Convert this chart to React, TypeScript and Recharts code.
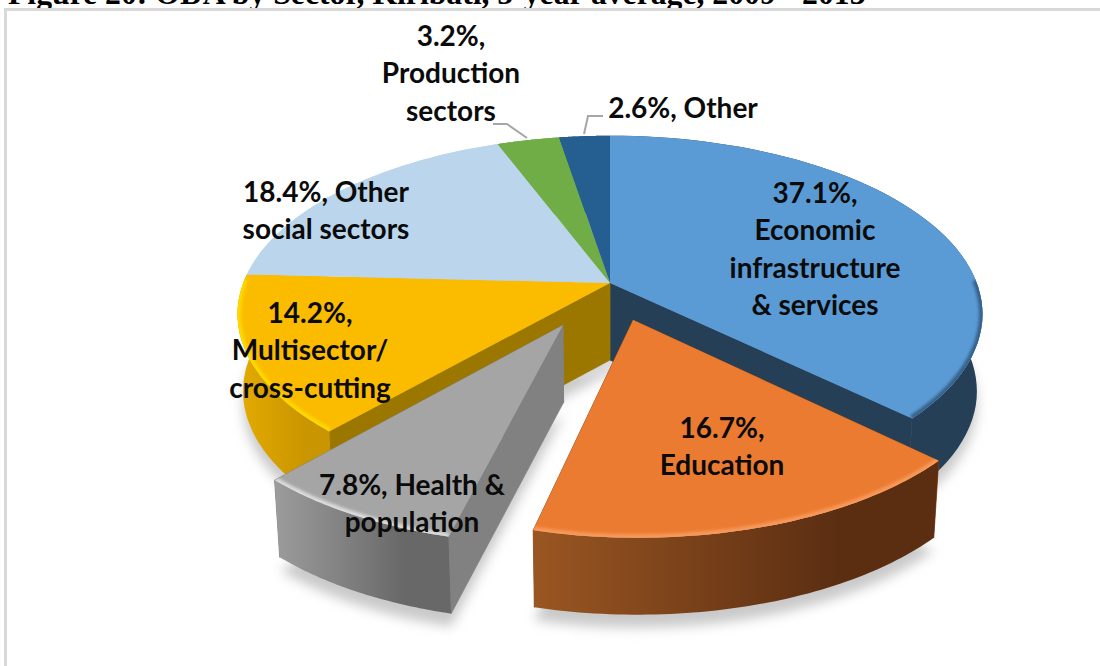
import React from 'react'
import { PieChart, Pie } from 'recharts'

const categories = ['Economic infrastructure & services', 'Education', 'Health & population', 'Multisector/cross-cutting', 'Other social sectors', 'Production sectors', 'Other']
const values = [37.1, 16.7, 7.8, 14.2, 18.4, 3.2, 2.6]
const labelRows = [
  ['37.1%,', 'Economic', 'infrastructure', '& services'],
  ['16.7%,', 'Education'],
  ['7.8%, Health &', 'population'],
  ['14.2%,', 'Multisector/', 'cross-cutting'],
  ['18.4%, Other', 'social sectors'],
  ['3.2%,', 'Production', 'sectors'],
  ['2.6%, Other'],
]
const title = 'Figure 20: ODA by Sector, Kiribati, 5-year average, 2009 - 2013'

// styling per slice
const topColors = ['#5B9BD5', '#EB7B31', '#A5A5A5', '#FBBC00', '#BAD5EC', '#70AD47', '#255E91']
const sideLeft = ['#243F56', '#9A5622', '#9C9C9C', '#E4AB00', '#BAD5EC', '#70AD47', '#255E91']
const sideRight = ['#243F56', '#5B2E12', '#686868', '#C99500', '#BAD5EC', '#70AD47', '#255E91']
const wallColors = ['#243F56', '#8a4a1c', '#818181', '#9C7700', '#BAD5EC', '#70AD47', '#255E91']
const rimColors = ['#34608A', '#F79A5C', '#DCDCDC', '#FFD900', 'none', 'none', 'none']
const explode = [0, 0.215, 0.265, 0, 0, 0, 0]
const radiusScale = [1, 0.965, 0.96, 1, 1, 1, 1]
const labelCenters = [[815, 192], [722, 427], [412, 484], [310, 312], [326, 191], [451, 35], [683, 107]]

const pieData = categories.map((name, i) => ({ name, value: values[i] }))

const PERSPECTIVE = 0.1746
const STRETCH_X = 2.12
const DEPTH = 77
const BOTTOM_SHRINK = 0.985
const RIM_LIMIT = 0.03

type Layer = 'shadow' | 'back' | 'top' | 'rim' | 'front'

function sliceShape(layer: Layer) {
  return (props: any) => {
    const name = props.name ?? props.payload?.name
    const i = categories.indexOf(name)
    const { cx, cy, outerRadius, startAngle, endAngle } = props
    const mid = ((startAngle + endAngle) / 2) * (Math.PI / 180)
    const e = explode[i]
    const exploded = e > 0

    const project = (X: number, Y: number, low = false) => {
      const mx = X + e * Math.cos(mid)
      const my = Y + e * Math.sin(mid)
      const w = 1 + PERSPECTIVE * my
      const px = (outerRadius * STRETCH_X * mx) / w
      const py = (-outerRadius * my) / w
      return low ? [cx + px * BOTTOM_SHRINK, cy + py + DEPTH] : [cx + px, cy + py]
    }

    const r = radiusScale[i]
    const steps = 60
    const angles = Array.from({ length: steps + 1 }, (_, s) => ((startAngle + ((endAngle - startAngle) * s) / steps) * Math.PI) / 180)
    const rimPt = (a: number, low = false) => project(r * Math.cos(a), r * Math.sin(a), low)
    const toPath = (pts: number[][]) => pts.map((p, n) => `${n ? 'L' : 'M'}${p[0].toFixed(1)} ${p[1].toFixed(1)}`).join(' ')

    const topPath = toPath([project(0, 0), ...angles.map(a => rimPt(a))]) + ' Z'
    const bottomPath = toPath([project(0, 0, true), ...angles.map(a => rimPt(a, true))]) + ' Z'
    const sidePath = toPath([...angles.map(a => rimPt(a)), ...[...angles].reverse().map(a => rimPt(a, true))]) + ' Z'
    const wallPath = (a: number) => toPath([project(0, 0), rimPt(a), rimPt(a, true), project(0, 0, true)]) + ' Z'
    const rimPath = toPath(angles.filter(a => r * Math.sin(a) < RIM_LIMIT).map(a => rimPt(a)))

    const xs = angles.map(a => rimPt(a)[0])
    const gradId = `side-${i}`
    const blurId = `rim-blur-${i}`
    const clipId = `rim-clip-${i}`
    const hasRim = rimColors[i] !== 'none' && rimPath.length > 0

    // soft bevel just inside the outer edge of the top face
    const rim = hasRim ? (
      <>
        <defs>
          <filter id={blurId} x="-10%" y="-10%" width="120%" height="120%">
            <feGaussianBlur stdDeviation="1.8" />
          </filter>
          <clipPath id={clipId}>
            <path d={topPath} />
          </clipPath>
        </defs>
        <g clipPath={`url(#${clipId})`}>
          <path d={rimPath} fill="none" stroke={rimColors[i]} strokeWidth={7} filter={`url(#${blurId})`} />
        </g>
      </>
    ) : null

    if (layer === 'shadow') {
      return (
        <g>
          <defs>
            <filter id={`shadow-${i}`} x="-30%" y="-30%" width="160%" height="160%">
              <feGaussianBlur stdDeviation="6" />
            </filter>
          </defs>
          <path d={bottomPath} fill="#c9c9c9" transform="translate(0 13)" filter={`url(#shadow-${i})`} />
        </g>
      )
    }

    if (layer === 'top' && !exploded) return <path d={topPath} fill={topColors[i]} />
    if (layer === 'rim' && !exploded && rim) return <g>{rim}</g>

    const drawBack = layer === 'back' && !exploded
    const drawFront = layer === 'front' && exploded
    if (!drawBack && !drawFront) return <g />

    const startRad = (startAngle * Math.PI) / 180
    const endRad = (endAngle * Math.PI) / 180
    const wallOnStart = drawFront || explode[(i + values.length - 1) % values.length] > 0
    const wallOnEnd = drawFront || explode[(i + 1) % values.length] > 0

    return (
      <g>
        <defs>
          <linearGradient id={gradId} gradientUnits="userSpaceOnUse" x1={Math.min(...xs)} x2={Math.max(...xs)} y1="0" y2="0">
            <stop offset="0" stopColor={sideLeft[i]} />
            <stop offset="0.75" stopColor={sideRight[i]} />
            <stop offset="1" stopColor={sideRight[i]} />
          </linearGradient>
        </defs>
        {wallOnStart && <path d={wallPath(startRad)} fill={wallColors[i]} stroke={wallColors[i]} strokeWidth={0.8} />}
        {wallOnEnd && <path d={wallPath(endRad)} fill={wallColors[i]} stroke={wallColors[i]} strokeWidth={0.8} />}
        <path d={sidePath} fill={`url(#${gradId})`} />
        {drawFront && <path d={topPath} fill={topColors[i]} />}
        {drawFront && rim}
      </g>
    )
  }
}

function renderLabel(props: any) {
  const i = categories.indexOf(props.name ?? props.payload?.name)
  const rows = labelRows[i]
  const [x, y] = labelCenters[i]
  const lead = 37.4
  return (
    <g key={i}>
      {rows.map((row, n) => (
        <text key={row} x={x} y={y + n * lead} textAnchor="middle" dominantBaseline="central"
          fontFamily="Lato, sans-serif" fontWeight={700} fontSize={28} fill="#0b0b0b">
          {row}
        </text>
      ))}
      {i === 5 && <polyline points="493,124 507,124 527,138" fill="none" stroke="#a6a6a6" strokeWidth={2} />}
      {i === 6 && <polyline points="603,116 588,116 584,134" fill="none" stroke="#a6a6a6" strokeWidth={2} />}
    </g>
  )
}

const pieProps = {
  data: pieData,
  dataKey: 'value',
  nameKey: 'name',
  cx: 610,
  cy: 283,
  outerRadius: 173,
  startAngle: 90,
  endAngle: -270,
  stroke: 'none',
  isAnimationActive: false,
}

export default function App() {
  return (
    <div style={{ position: 'absolute', left: 0, top: 0, width: 1100, height: 666, overflow: 'hidden', background: '#fff' }}>
      <div style={{ position: 'absolute', left: 8, top: -21, whiteSpace: 'nowrap', fontFamily: '"Liberation Serif", serif', fontWeight: 700, fontSize: 31.7, lineHeight: '30px', color: '#000' }}>
        {title}
      </div>
      <div style={{ position: 'absolute', left: 4, top: 8, width: 1100, height: 700, borderLeft: '3px solid #d9d9d9', borderTop: '3px solid #d9d9d9', boxSizing: 'border-box' }} />
      <div style={{ position: 'absolute', left: 0, top: 0 }}>
        <PieChart width={1100} height={666} margin={{ top: 0, right: 0, bottom: 0, left: 0 }}>
          <Pie {...pieProps} shape={sliceShape('shadow')} />
          <Pie {...pieProps} shape={sliceShape('back')} />
          <Pie {...pieProps} shape={sliceShape('top')} />
          <Pie {...pieProps} shape={sliceShape('rim')} />
          <Pie {...pieProps} shape={sliceShape('front')} label={renderLabel} labelLine={false} />
        </PieChart>
      </div>
    </div>
  )
}
